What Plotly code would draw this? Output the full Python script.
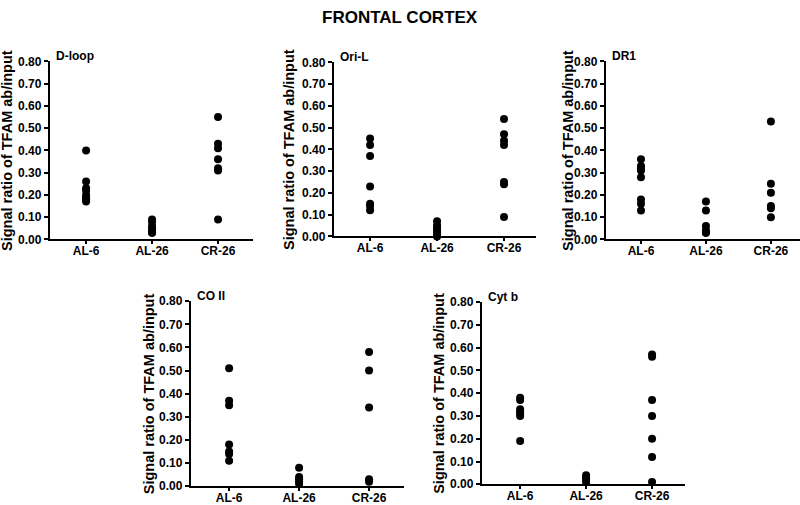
import plotly.graph_objects as go

W, H = 800, 505
groups = ["AL-6", "AL-26", "CR-26"]
y_ticks = [0.0, 0.1, 0.2, 0.3, 0.4, 0.5, 0.6, 0.7, 0.8]
y_tick_labels = ["0.00", "0.10", "0.20", "0.30", "0.40", "0.50", "0.60", "0.70", "0.80"]
panel_names = ["D-loop", "Ori-L", "DR1", "CO II", "Cyt b"]

dloop_al6 = [0.40, 0.26, 0.23, 0.22, 0.20, 0.19, 0.18, 0.17]
dloop_al26 = [0.09, 0.08, 0.06, 0.05, 0.04, 0.03, 0.03]
dloop_cr26 = [0.55, 0.43, 0.41, 0.36, 0.32, 0.31, 0.09]

oril_al6 = [0.45, 0.42, 0.37, 0.23, 0.15, 0.14, 0.12]
oril_al26 = [0.07, 0.05, 0.04, 0.03, 0.02, 0.01, 0.00]
oril_cr26 = [0.54, 0.47, 0.44, 0.42, 0.25, 0.24, 0.09]

dr1_al6 = [0.36, 0.33, 0.32, 0.31, 0.28, 0.18, 0.16, 0.13]
dr1_al26 = [0.17, 0.13, 0.06, 0.04, 0.03, 0.03]
dr1_cr26 = [0.53, 0.25, 0.21, 0.15, 0.14, 0.10]

coii_al6 = [0.51, 0.37, 0.35, 0.18, 0.15, 0.14, 0.11]
coii_al26 = [0.08, 0.04, 0.03, 0.02, 0.01]
coii_cr26 = [0.58, 0.50, 0.34, 0.03, 0.02]

cytb_al6 = [0.38, 0.37, 0.33, 0.32, 0.31, 0.30, 0.19]
cytb_al26 = [0.04, 0.03, 0.02, 0.01]
cytb_cr26 = [0.57, 0.56, 0.37, 0.30, 0.20, 0.12, 0.01]

panel_data = [
    [dloop_al6, dloop_al26, dloop_cr26],
    [oril_al6, oril_al26, oril_cr26],
    [dr1_al6, dr1_al26, dr1_cr26],
    [coii_al6, coii_al26, coii_cr26],
    [cytb_al6, cytb_al26, cytb_cr26],
]

# target pixel layout: (y-axis x, first cat x, last cat x, axis end x, top y, bottom y, y-title x)
boxes = [
    (50, 86, 217, 252, 60, 239, 8),
    (332, 368, 501, 533, 61, 236, 288),
    (602, 637, 766, 798, 60, 239, 565),
    (190, 228, 367, 402, 301, 487, 148),
    (479, 517, 648, 681, 302, 485, 437),
]


def fx(px):
    return (px - 0.5) / 0.993


def fy(py):
    return (py - 5.4) / 0.977


FONT = "Liberation Sans, Arial, sans-serif"
fig = go.Figure()
annotations = []

for i, (name, data, box) in enumerate(zip(panel_names, panel_data, boxes)):
    ax, c0, c2, xe, yt, yb, tx = box
    ax, c0, c2, xe = fx(ax), fx(c0), fx(c2), min(fx(xe), W)
    yt, yb, tx = fy(yt), fy(yb), fx(tx)
    unit = (c2 - c0) / 2
    xr = [-(c0 - ax) / unit, (xe - c0) / unit]
    idx = "" if i == 0 else str(i + 1)
    xa, ya = "x" + idx, "y" + idx
    xs, ys = [], []
    for g, vals in zip(groups, data):
        xs += [g] * len(vals)
        ys += vals
    fig.add_trace(go.Scatter(
        x=xs, y=ys, mode="markers", xaxis=xa, yaxis=ya, cliponaxis=False,
        marker=dict(color="black", size=8), showlegend=False,
    ))
    common = dict(
        showline=True, linecolor="black", linewidth=2, showgrid=False,
        zeroline=False, ticks="outside", tickcolor="black",
        tickfont=dict(family=FONT, size=12, color="black", weight="bold"),
    )
    fig.update_layout(**{
        "xaxis" + idx: dict(
            domain=[ax / W, xe / W], anchor=ya, type="category",
            categoryorder="array", categoryarray=groups,
            range=xr, ticklen=3, tickwidth=2,
            ticklabelstandoff=-4, **common,
        ),
        "yaxis" + idx: dict(
            domain=[1 - yb / H, 1 - yt / H], anchor=xa,
            range=[0, 0.8], tickvals=y_ticks, ticktext=y_tick_labels,
            ticklen=4, tickwidth=2, **common,
        ),
    })
    annotations.append(dict(
        text="Signal ratio of TFAM ab/input", textangle=-90,
        x=tx / W, y=1 - (yt + yb) / 2 / H, xref="paper", yref="paper",
        xanchor="center", yanchor="middle", showarrow=False,
        font=dict(family=FONT, size=14.5, color="black", weight="bold"),
    ))
    annotations.append(dict(
        text=name, x=(ax + 4) / W, y=1 - (yt - 5) / H,
        xref="paper", yref="paper", xanchor="left", yanchor="middle",
        showarrow=False,
        font=dict(family=FONT, size=12, color="black", weight="bold"),
    ))

annotations.append(dict(
    text="FRONTAL CORTEX", x=fx(398) / W, y=1, xref="paper", yref="paper",
    xanchor="center", yanchor="top", showarrow=False, borderpad=0,
    font=dict(family=FONT, size=17, color="black", weight="bold"),
))

fig.update_layout(
    width=W, height=H, margin=dict(l=0, r=0, t=0, b=0),
    plot_bgcolor="white", paper_bgcolor="white",
    annotations=annotations,
)

fig.write_html(
    "out.html",
    config={"displayModeBar": False},
    post_script=(
        "document.documentElement.style.margin='0';"
        "document.documentElement.style.padding='0';"
        "document.documentElement.style.overflow='hidden';"
        "document.body.style.margin='0';"
        "document.body.style.padding='0';"
        "document.body.style.overflow='hidden';"
    ),
)
